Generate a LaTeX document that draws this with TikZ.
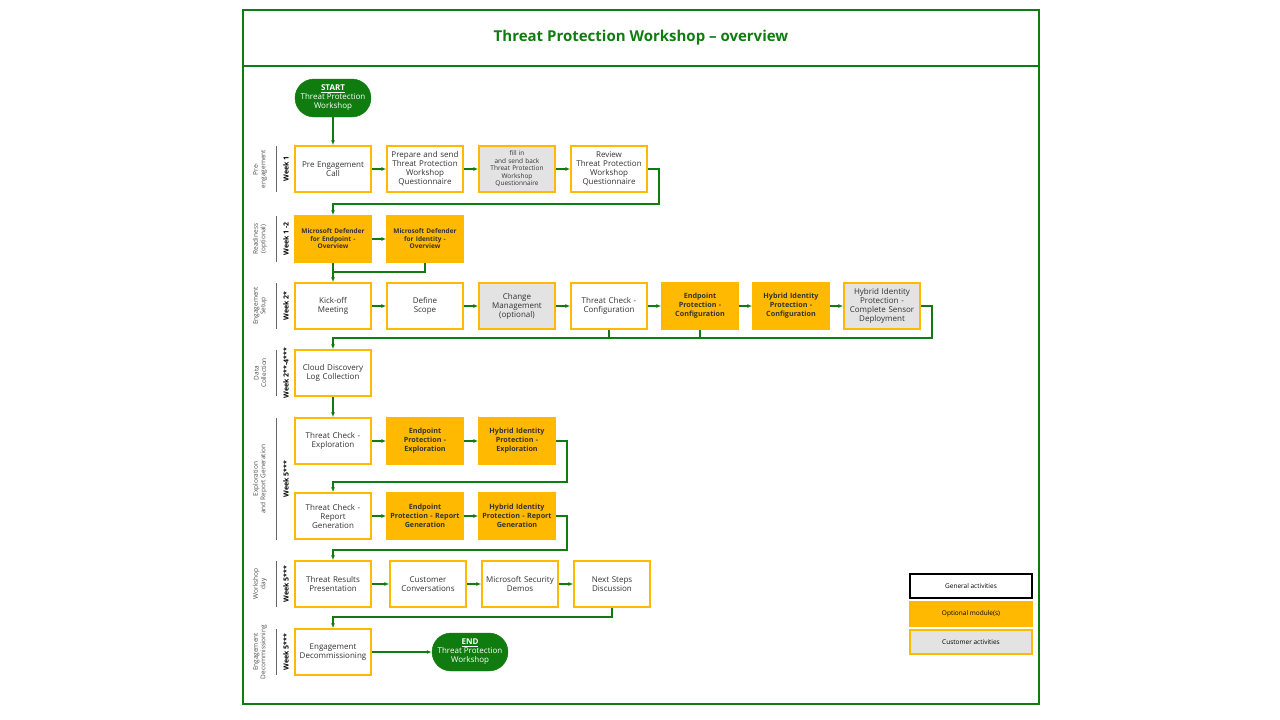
\documentclass[tikz,border=0pt]{standalone}
\usepackage{fontspec}
\setmainfont{Open Sans}
\usetikzlibrary{arrows.meta}
\definecolor{msgreen}{HTML}{107C10}
\definecolor{msorange}{HTML}{FFB900}
\definecolor{msgray}{HTML}{E3E3E3}
\tikzset{
  act/.style={draw=msorange,line width=1.5pt,fill=white,minimum width=76pt,minimum height=46pt,
    align=center,font=\fontsize{8}{9}\selectfont,text width=74pt,inner sep=0pt,text=black!80},
  opt/.style={act,fill=msorange,font=\fontsize{7.2}{9}\selectfont\bfseries},
  cust/.style={act,fill=msgray},
  term/.style={draw=msgreen,fill=msgreen,rounded corners=19pt,minimum width=76pt,minimum height=38pt,
    align=center,text=white,font=\fontsize{8}{9}\selectfont,inner sep=1pt},
  flow/.style={msgreen,line width=1.5pt,-{Latex[length=5pt,width=4pt]}},
  wire/.style={msgreen,line width=1.5pt},
  grp/.style={rotate=90,align=center,font=\fontsize{6.5}{7.5}\selectfont,text=black!70},
  wk/.style={rotate=90,font=\fontsize{7}{8}\selectfont\bfseries},
  leg/.style={draw,line width=1.5pt,minimum width=122pt,minimum height=24pt,font=\fontsize{6.5}{7.5}\selectfont}
}
\begin{document}
\begin{tikzpicture}[x=1pt,y=-1pt]
    \useasboundingbox (0,0) rectangle (1280,720);
    % Frame and title
    \draw[msgreen,line width=1.2pt] (243,10) rectangle (1039,704);
    \draw[msgreen,line width=1.2pt] (243,66) -- (1039,66);
    \node[text=msgreen,font=\fontsize{15}{17}\selectfont\bfseries] (title) at (641,38) {Threat Protection Workshop -- overview};

    % Phase labels
    \foreach \ya/\yb/\g/\w in {146/192/{Pre-\\engagement}/{Week 1},
        216/262/{Readiness\\(optional)}/{Week 1 -2},
        283/329/{Engagement\\Setup}/{Week 2*},
        350/396/{Data\\Collection}/{Week 2**-4***},
        418/540/{Exploration\\and Report Generation}/{Week 5***},
        561/607/{Workshop\\day}/{Week 5***},
        629/675/{Engagement\\Decommissioning}/{Week 5***}}{
      \draw[black!60,line width=1pt] (276,\ya) -- (276,\yb);
      \node[grp] at (260,{(\ya+\yb)/2}) {\g};
      \node[wk] at (286,{(\ya+\yb)/2}) {\w};
    }

    % Activities
    \node[term] (start) at (333,98) {\underline{\textbf{START}}\\Threat Protection\\Workshop};
    \node[act]  (pre)   at (333,169) {Pre Engagement\\Call};
    \node[act]  (prep)  at (425,169) {Prepare and send\\Threat Protection\\Workshop\\Questionnaire};
    \node[cust,font=\fontsize{6.5}{7.5}\selectfont] (fill) at (517,169) {fill in\\and send back\\Threat Protection\\Workshop\\Questionnaire};
    \node[act]  (rev)   at (609,169) {Review\\Threat Protection\\Workshop\\Questionnaire};

    \node[opt,font=\fontsize{6.5}{7.5}\selectfont\bfseries] (mde) at (333,239) {Microsoft Defender\\for Endpoint -\\Overview};
    \node[opt,font=\fontsize{6.5}{7.5}\selectfont\bfseries] (mdi) at (425,239) {Microsoft Defender\\for Identity -\\Overview};

    \node[act]  (kick)  at (333,306) {Kick-off\\Meeting};
    \node[act]  (scope) at (425,306) {Define\\Scope};
    \node[cust] (chg)   at (517,306) {Change\\Management\\(optional)};
    \node[act]  (tcc)   at (609,306) {Threat Check -\\Configuration};
    \node[opt]  (epc)   at (700,306) {Endpoint\\Protection -\\Configuration};
    \node[opt]  (hic)   at (791,306) {Hybrid Identity\\Protection -\\Configuration};
    \node[cust] (sens)  at (882,306) {Hybrid Identity\\Protection -\\Complete Sensor\\Deployment};

    \node[act]  (cloud) at (333,373) {Cloud Discovery\\Log Collection};

    \node[act]  (tce)   at (333,441) {Threat Check -\\Exploration};
    \node[opt]  (epe)   at (425,441) {Endpoint\\Protection -\\Exploration};
    \node[opt]  (hie)   at (517,441) {Hybrid Identity\\Protection -\\Exploration};

    \node[act]  (tcr)   at (333,516) {Threat Check -\\Report\\Generation};
    \node[opt]  (epr)   at (425,516) {Endpoint\\Protection - Report\\Generation};
    \node[opt]  (hir)   at (517,516) {Hybrid Identity\\Protection - Report\\Generation};

    \node[act]  (res)   at (333,584) {Threat Results\\Presentation};
    \node[act]  (conv)  at (428,584) {Customer\\Conversations};
    \node[act]  (demo)  at (520,584) {Microsoft Security\\Demos};
    \node[act]  (next)  at (612,584) {Next Steps\\Discussion};

    \node[act]  (dec)   at (333,652) {Engagement\\Decommissioning};
    \node[term] (end)   at (470,652) {\underline{\textbf{END}}\\Threat Protection\\Workshop};

    % Connectors
    \draw[flow] (start) -- (pre);
    \draw[flow] (pre) -- (prep);
    \draw[flow] (prep) -- (fill);
    \draw[flow] (fill) -- (rev);
    \draw[flow] (rev.east) -- ++(11,0) |- (333,204) -- (mde.north);
    \draw[flow] (mde) -- (mdi);
    \draw[wire] (mdi.south) |- (333,272);
    \draw[flow] (mde.south) -- (kick.north);
    \draw[flow] (kick) -- (scope);
    \draw[flow] (scope) -- (chg);
    \draw[flow] (chg) -- (tcc);
    \draw[flow] (tcc) -- (epc);
    \draw[flow] (epc) -- (hic);
    \draw[flow] (hic) -- (sens);
    \draw[wire] (tcc.south) -- (tcc.south |- 0,338);
    \draw[wire] (epc.south) -- (epc.south |- 0,338);
    \draw[flow] (sens.east) -- ++(11,0) |- (333,338) -- (cloud.north);
    \draw[flow] (cloud) -- (tce);
    \draw[flow] (tce) -- (epe);
    \draw[flow] (epe) -- (hie);
    \draw[flow] (hie.east) -- ++(11,0) |- (333,482) -- (tcr.north);
    \draw[flow] (tcr) -- (epr);
    \draw[flow] (epr) -- (hir);
    \draw[flow] (hir.east) -- ++(11,0) |- (333,550) -- (res.north);
    \draw[flow] (res) -- (conv);
    \draw[flow] (conv) -- (demo);
    \draw[flow] (demo) -- (next);
    \draw[flow] (next.south) |- (333,617) -- (dec.north);
    \draw[flow] (dec) -- (end);

    % Legend
    \node[leg,draw=black,fill=white] (lgen) at (971,586) {General activities};
    \node[leg,draw=msorange,fill=msorange] (lopt) at (971,614) {Optional module(s)};
    \node[leg,draw=msorange,fill=msgray] (lcust) at (971,642) {Customer activities};
\end{tikzpicture}
\end{document}
